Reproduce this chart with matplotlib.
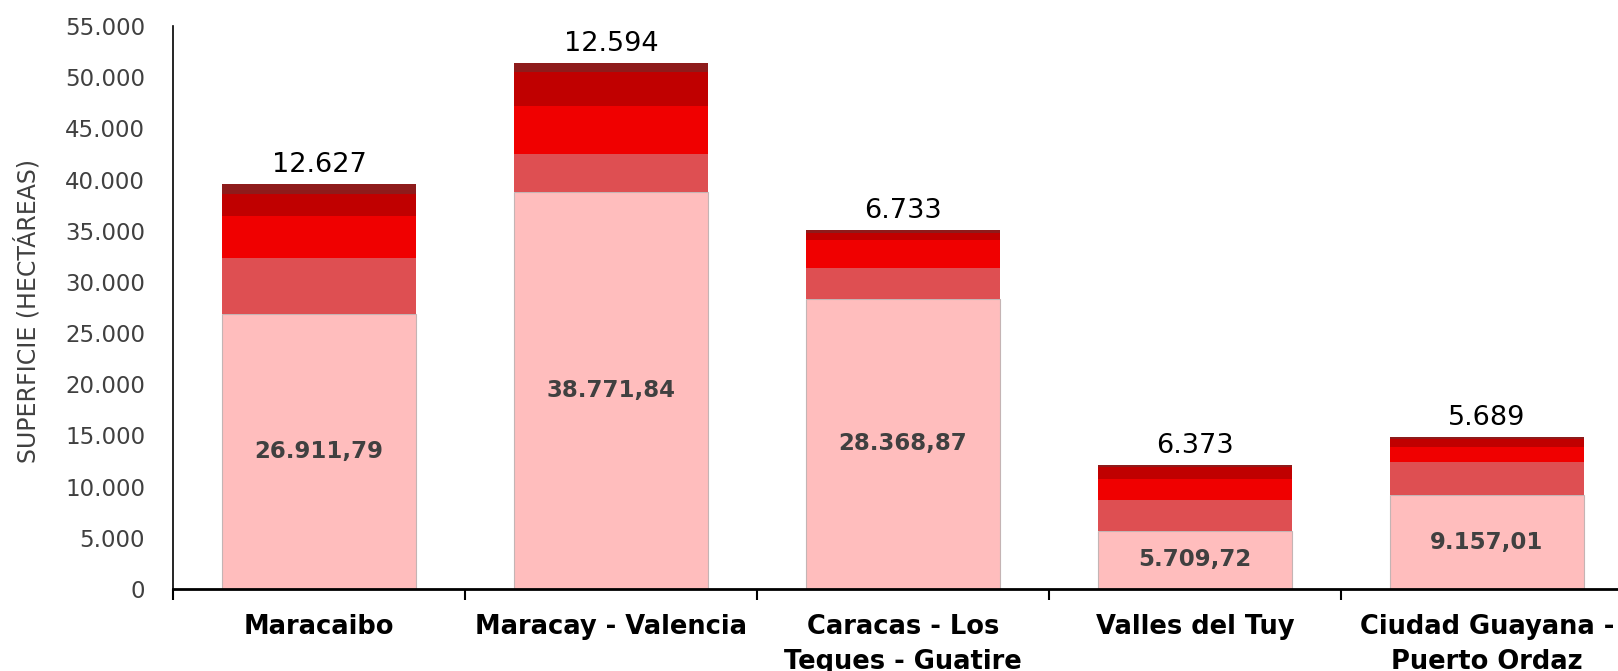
import numpy as np
import matplotlib.pyplot as plt

# data (hectares), stacked bottom to top
categories = ['Maracaibo', 'Maracay - Valencia', 'Caracas - Los\nTeques - Guatire',
              'Valles del Tuy', 'Ciudad Guayana -\nPuerto Ordaz']
seg1 = [26911.79, 38771.84, 28368.87, 5709.72, 9157.01]
seg2 = [5408, 3728, 3031, 3020, 3223]
seg3 = [4110, 4700, 2700, 2020, 1510]
seg4 = [2140, 3300, 700, 1200, 800]
seg5 = [969, 866, 302, 133, 156]
yticks = np.arange(0, 55001, 5000)

colors = ['#FFBDBD', '#DE4F52', '#F00000', '#C00000', '#8E1B1B']


def fmt_int(v):
    return '{:,.0f}'.format(v).replace(',', '.')


def fmt_dec(v):
    return '{:,.2f}'.format(v).replace(',', 'X').replace('.', ',').replace('X', '.')


plt.rcParams['font.family'] = ['DejaVu Sans']

fig = plt.figure(figsize=(16.18, 6.71), dpi=100)
ax = fig.add_axes([0.1069, 0.1222, 0.9024, 0.8390])

x = np.arange(len(categories))
width = 0.664
bottom = np.zeros(len(categories))
for i, (seg, col) in enumerate(zip([seg1, seg2, seg3, seg4, seg5], colors)):
    if i == 0:
        ax.bar(x, seg, width, bottom=bottom, color=col, edgecolor='#c4b4b4', linewidth=0.8)
    else:
        ax.bar(x, seg, width, bottom=bottom, color=col, linewidth=0)
    bottom += np.array(seg)

# labels inside the bottom segment
for xi, v in zip(x, seg1):
    ax.text(xi, v / 2, fmt_dec(v), ha='center', va='center',
            fontsize=16.5, fontweight='bold', color='#404040')

# labels on top: sum of the upper segments
upper = np.array(seg2) + np.array(seg3) + np.array(seg4) + np.array(seg5)
for xi, top, u in zip(x, bottom, upper):
    ax.text(xi, top + 600, fmt_int(u), ha='center', va='bottom',
            fontsize=19.5, color='black')

ax.set_xlim(-0.5, len(categories) - 0.5)
ax.set_ylim(0, 55000)
ax.set_yticks(yticks)
ax.set_yticklabels([fmt_int(t) for t in yticks])
ax.tick_params(axis='y', length=0, pad=20, labelsize=16.5, labelcolor='#404040')

ax.set_xticks(x)
ax.set_xticklabels(categories, fontsize=18.5, fontweight='bold', linespacing=1.45)
ax.set_xticks(np.arange(-0.5, len(categories), 1), minor=True)
ax.tick_params(axis='x', which='major', length=0, pad=18)
ax.tick_params(axis='x', which='minor', length=8, width=1.5, color='black')

ax.set_ylabel('SUPERFICIE (HECTÁREAS)', fontsize=17, color='#404040')
ax.yaxis.set_label_coords(-0.0904, 0.494)

for s in ['top', 'right']:
    ax.spines[s].set_visible(False)
ax.spines['left'].set_linewidth(1.2)
ax.spines['bottom'].set_linewidth(2)

fig.savefig('out.png', dpi=100)
